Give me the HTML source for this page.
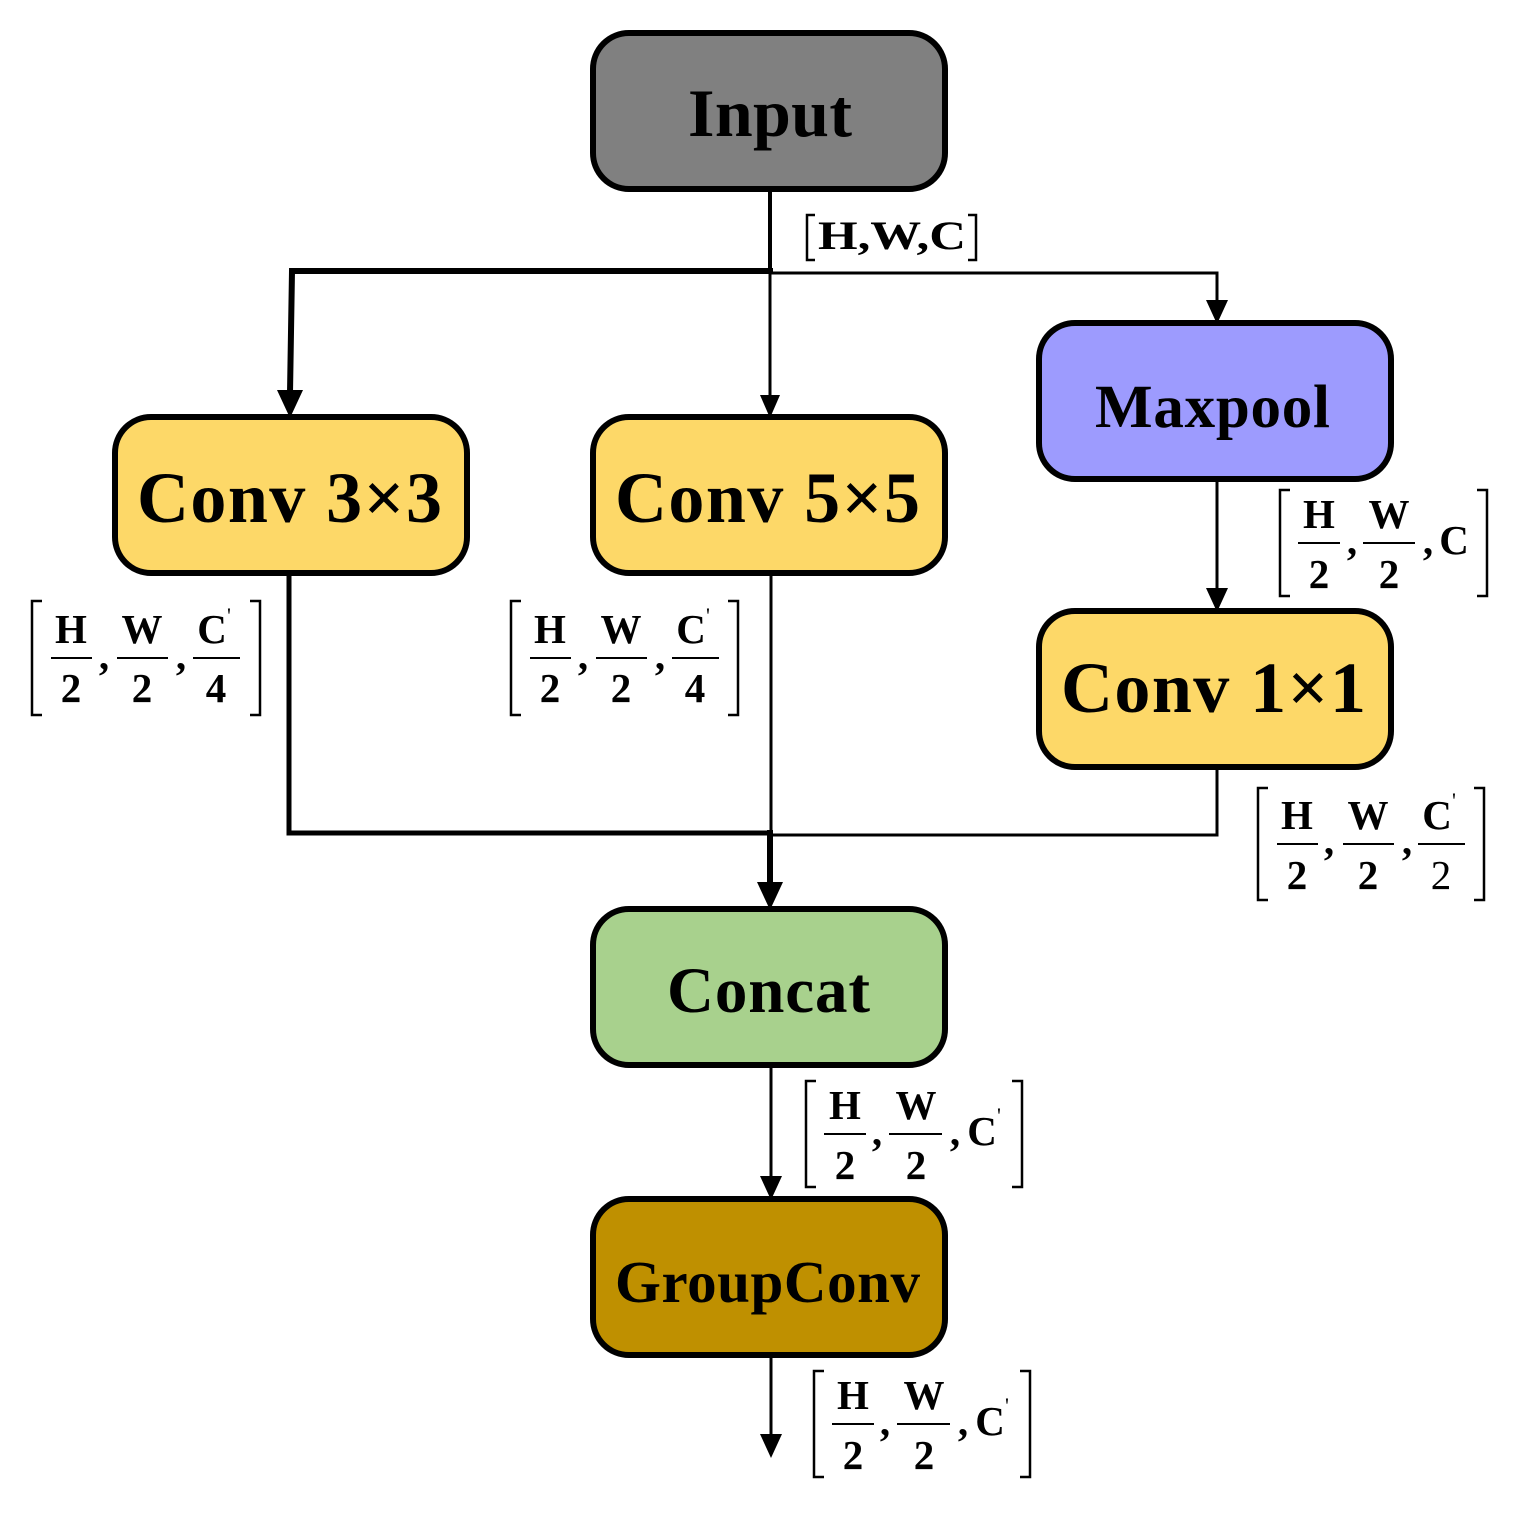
<!DOCTYPE html>
<html><head><meta charset="utf-8"><style>
html,body{margin:0;padding:0;background:#fff;}
svg{display:block;}
.b{font-family:"Liberation Serif",serif;font-weight:bold;fill:#000;}
.f{font-family:"Liberation Serif",serif;font-weight:bold;font-size:41px;fill:#000;text-anchor:middle;}
.fn{font-family:"Liberation Serif",serif;font-size:41px;fill:#000;text-anchor:middle;}
.p{font-family:"Liberation Serif",serif;font-size:22px;fill:#000;}
</style></head><body>
<svg width="1513" height="1524" viewBox="0 0 1513 1524" xmlns="http://www.w3.org/2000/svg">
<g stroke="#000" fill="none" stroke-linecap="square">
<line x1="770" y1="189" x2="770" y2="271" stroke-width="4"/>
<line x1="770" y1="271" x2="770" y2="395" stroke-width="3"/>
<polygon points="760,395 780,395 770,418" fill="#000" stroke="none"/>
<polyline points="770,271 292,271 290,393" stroke-width="6"/>
<polygon points="277,390 303,390 290,418" fill="#000" stroke="none"/>
<polyline points="770,273 1217,273 1217,302" stroke-width="3"/>
<polygon points="1206,300 1228,300 1217,324" fill="#000" stroke="none"/>
<line x1="1217" y1="479" x2="1217" y2="590" stroke-width="3"/>
<polygon points="1206,588 1228,588 1217,612" fill="#000" stroke="none"/>
<polyline points="289,573 289,833 770,833" stroke-width="5"/>
<polyline points="1217,767 1217,835 770,835" stroke-width="3"/>
<line x1="771" y1="573" x2="771" y2="833" stroke-width="3"/>
<line x1="770" y1="833" x2="770" y2="885" stroke-width="6"/>
<polygon points="757,882 783,882 770,910" fill="#000" stroke="none"/>
<line x1="771" y1="1065" x2="771" y2="1178" stroke-width="3"/>
<polygon points="760,1176 782,1176 771,1200" fill="#000" stroke="none"/>
<line x1="771" y1="1355" x2="771" y2="1435" stroke-width="3"/>
<polygon points="760,1434 782,1434 771,1458" fill="#000" stroke="none"/>
</g>
<g stroke="#000" stroke-width="6">
<rect x="593" y="33" width="352" height="156" rx="36" fill="#808080"/>
<rect x="115" y="417" width="352" height="156" rx="36" fill="#FDD868"/>
<rect x="593" y="417" width="352" height="156" rx="36" fill="#FDD868"/>
<rect x="1039" y="323" width="352" height="156" rx="36" fill="#9D9BFE"/>
<rect x="1039" y="611" width="352" height="156" rx="36" fill="#FDD868"/>
<rect x="593" y="909" width="352" height="156" rx="36" fill="#A8D18D"/>
<rect x="593" y="1199" width="352" height="156" rx="36" fill="#BF9000"/>
</g>
<text class="b" x="688" y="136" style="font-size:68px" textLength="164" lengthAdjust="spacing">Input</text>
<text class="b" x="137" y="522" style="font-size:72px" textLength="305" lengthAdjust="spacing">Conv 3×3</text>
<text class="b" x="615" y="522" style="font-size:72px" textLength="305" lengthAdjust="spacing">Conv 5×5</text>
<text class="b" x="1095" y="427" style="font-size:61px" textLength="235" lengthAdjust="spacing">Maxpool</text>
<text class="b" x="1061" y="712" style="font-size:72px" textLength="305" lengthAdjust="spacing">Conv 1×1</text>
<text class="b" x="667" y="1012" style="font-size:65px" textLength="203" lengthAdjust="spacing">Concat</text>
<text class="b" x="615" y="1302" style="font-size:59px" textLength="305" lengthAdjust="spacing">GroupConv</text>
<g>
<path d="M815,215 H807 V260 H815 M968,215 H976 V260 H968" stroke="#000" stroke-width="2.5" fill="none"/>
<text x="818" y="249" font-family="Liberation Serif,serif" font-size="40" font-weight="bold" textLength="148" lengthAdjust="spacingAndGlyphs">H,W,C</text>
</g>
<g transform="translate(31,601)">
<path d="M11,0 H1 V114 H11 M219,0 H229 V114 H219" stroke="#000" stroke-width="2.5" fill="none"/>
<text class="f" x="40" y="42">H</text><line x1="20" y1="57" x2="61" y2="57" stroke="#000" stroke-width="2"/><text class="f" x="40" y="101">2</text>
<text class="f" x="73" y="68">,</text>
<text class="f" x="111" y="42">W</text><line x1="86" y1="57" x2="137" y2="57" stroke="#000" stroke-width="2"/><text class="f" x="111" y="101">2</text>
<text class="f" x="150" y="68">,</text>
<text class="f" x="181" y="42">C</text><text class="p" x="196" y="22">'</text><line x1="162" y1="57" x2="209" y2="57" stroke="#000" stroke-width="2"/><text class="f" x="185" y="101">4</text>
</g>
<g transform="translate(510,601)">
<path d="M11,0 H1 V114 H11 M218,0 H228 V114 H218" stroke="#000" stroke-width="2.5" fill="none"/>
<text class="f" x="40" y="42">H</text><line x1="20" y1="57" x2="61" y2="57" stroke="#000" stroke-width="2"/><text class="f" x="40" y="101">2</text>
<text class="f" x="73" y="68">,</text>
<text class="f" x="111" y="42">W</text><line x1="86" y1="57" x2="137" y2="57" stroke="#000" stroke-width="2"/><text class="f" x="111" y="101">2</text>
<text class="f" x="150" y="68">,</text>
<text class="f" x="181" y="42">C</text><text class="p" x="196" y="22">'</text><line x1="162" y1="57" x2="209" y2="57" stroke="#000" stroke-width="2"/><text class="f" x="185" y="101">4</text>
</g>
<g transform="translate(1279,490)">
<path d="M11,0 H1 V106 H11 M198,0 H208 V106 H198" stroke="#000" stroke-width="2.5" fill="none"/>
<text class="f" x="40" y="38">H</text><line x1="19" y1="53" x2="61" y2="53" stroke="#000" stroke-width="2"/><text class="f" x="40" y="98">2</text>
<text class="f" x="73" y="64">,</text>
<text class="f" x="110" y="38">W</text><line x1="84" y1="53" x2="136" y2="53" stroke="#000" stroke-width="2"/><text class="f" x="110" y="98">2</text>
<text class="f" x="149" y="64">,</text>
<text class="f" x="175" y="64">C</text>
</g>
<g transform="translate(1257,788)">
<path d="M11,0 H1 V112 H11 M217,0 H227 V112 H217" stroke="#000" stroke-width="2.5" fill="none"/>
<text class="f" x="40" y="41">H</text><line x1="20" y1="56" x2="61" y2="56" stroke="#000" stroke-width="2"/><text class="f" x="40" y="101">2</text>
<text class="f" x="72" y="66">,</text>
<text class="f" x="111" y="41">W</text><line x1="86" y1="56" x2="137" y2="56" stroke="#000" stroke-width="2"/><text class="f" x="111" y="101">2</text>
<text class="f" x="150" y="66">,</text>
<text class="f" x="180" y="41">C</text><text class="p" x="195" y="20">'</text><line x1="161" y1="56" x2="208" y2="56" stroke="#000" stroke-width="2"/><text class="fn" x="184" y="101">2</text>
</g>
<g transform="translate(805,1081)">
<path d="M11,0 H1 V106 H11 M207,0 H217 V106 H207" stroke="#000" stroke-width="2.5" fill="none"/>
<text class="f" x="40" y="38">H</text><line x1="19" y1="53" x2="61" y2="53" stroke="#000" stroke-width="2"/><text class="f" x="40" y="98">2</text>
<text class="f" x="72" y="64">,</text>
<text class="f" x="111" y="38">W</text><line x1="84" y1="53" x2="137" y2="53" stroke="#000" stroke-width="2"/><text class="f" x="111" y="98">2</text>
<text class="f" x="150" y="64">,</text>
<text class="f" x="177" y="64">C</text><text class="p" x="192" y="42">'</text>
</g>
<g transform="translate(813,1371)">
<path d="M11,0 H1 V106 H11 M207,0 H217 V106 H207" stroke="#000" stroke-width="2.5" fill="none"/>
<text class="f" x="40" y="38">H</text><line x1="19" y1="53" x2="61" y2="53" stroke="#000" stroke-width="2"/><text class="f" x="40" y="98">2</text>
<text class="f" x="72" y="64">,</text>
<text class="f" x="111" y="38">W</text><line x1="84" y1="53" x2="137" y2="53" stroke="#000" stroke-width="2"/><text class="f" x="111" y="98">2</text>
<text class="f" x="150" y="64">,</text>
<text class="f" x="177" y="64">C</text><text class="p" x="192" y="42">'</text>
</g>
</svg>
</body></html>
